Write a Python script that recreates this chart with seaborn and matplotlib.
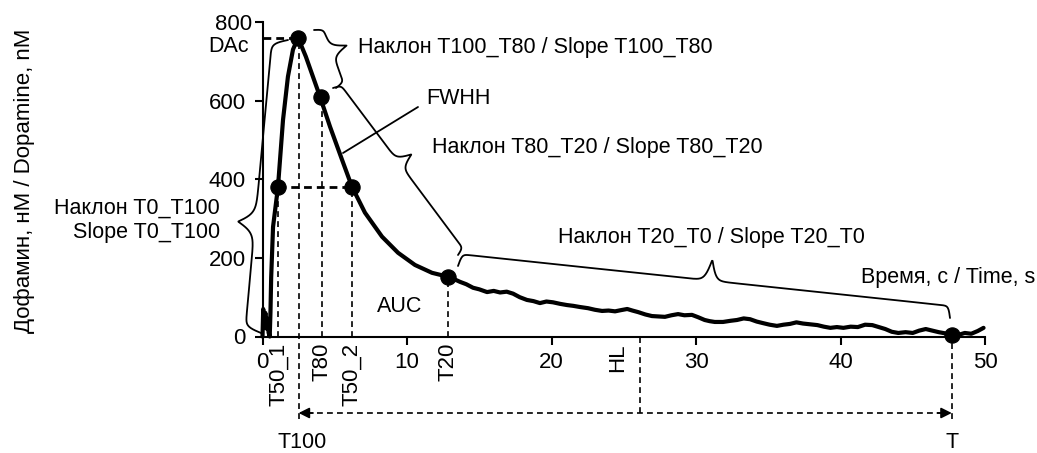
import numpy as np
import matplotlib
matplotlib.use("Agg")
import matplotlib.pyplot as plt
import matplotlib.transforms as mtransforms
import seaborn as sns
import pandas as pd

# ---------------- data ----------------
time_s = [0, 0.05, 0.12, 0.2, 0.28, 0.36, 0.42, 0.5, 0.55, 0.6, 0.73, 1.07, 1.42, 1.76, 2.11, 2.46,
          3.0, 3.49, 3.98, 4.67, 5.5, 6.19, 7.09, 8.27, 9.38, 10.55, 11.73, 12.84,
          13.2, 13.67, 14.1, 14.57, 15.0, 15.54, 16.0, 16.44, 16.9, 17.34, 17.8, 18.3, 18.75,
          19.2, 19.65, 20.1, 20.6, 21.07, 21.5, 21.97, 22.53, 23.0, 23.5, 23.95, 24.4, 24.8,
          25.24, 25.6, 26.0, 26.5, 26.95, 27.4, 27.85, 28.3, 28.76, 29.2, 29.72, 30.15, 30.6,
          30.95, 31.3, 31.87, 32.4, 32.84, 33.3, 33.74, 34.2, 34.64, 35.1, 35.6, 36.05, 36.5,
          36.95, 37.4, 37.9, 38.4, 38.85, 39.3, 39.75, 40.2, 40.7, 41.2, 41.7, 42.2, 42.65,
          43.1, 43.55, 44.0, 44.5, 45.0, 45.45, 45.9, 46.35, 46.8, 47.25, 47.7, 48.15, 48.6,
          49.05, 49.5, 49.9]
dopamine_nM = [0, 70, 30, 60, 20, 45, 10, 0, 60, 150, 279, 380, 551, 661, 730, 760,
               712, 661, 610, 534, 450, 381, 315, 254, 213, 182, 162, 152,
               147, 139, 133, 124, 120, 113, 116, 112, 114, 109, 100, 93, 90,
               85, 89, 87, 83, 80, 78, 75, 72, 68, 65, 66, 64, 67,
               70, 66, 62, 56, 52, 51, 50, 54, 57, 54, 55, 49, 42,
               39, 37, 37, 40, 42, 46, 44, 38, 34, 30, 27, 30, 32,
               36, 33, 31, 29, 25, 22, 24, 22, 25, 24, 30, 29, 24,
               19, 12, 9, 11, 9, 15, 19, 15, 11, 8, 6, 4, 9,
               7, 14, 22]

marker_time = [1.07, 2.46, 4.05, 6.19, 12.84, 47.7]
marker_value = [380, 760, 610, 381, 152, 5]

DAc = 760
half_DAc = 380
T50_1, T100, T80, T50_2, T20, HL, T_end = 1.1, 2.5, 4.15, 6.2, 12.85, 26.1, 47.7

x_num_ticks = [0, 10, 20, 30, 40, 50]
x_num_labels = ["0", "10", "20", "30", "40", "50"]
x_named_ticks = [1.1, 4.15, 6.2, 12.85, 24.6]
x_named_labels = ["T50_1", "T80", "T50_2", "T20", "HL"]
y_ticks = [0, 200, 400, 600, 800]
y_labels = ["0", "200", "400", "600", "800"]

# ---------------- style ----------------
sns.set_style("ticks")
plt.rcParams['font.family'] = ['Liberation Sans', 'DejaVu Sans']
plt.rcParams['axes.edgecolor'] = 'black'
plt.rcParams['xtick.color'] = 'black'
plt.rcParams['ytick.color'] = 'black'
plt.rcParams['text.color'] = 'black'
FS = 15.5
FT = 16

W, H = 1037, 453
fig = plt.figure(figsize=(W / 100, H / 100), dpi=100)
ax = fig.add_axes([262.5 / W, (H - 336.5) / H, 722.5 / W, 314.5 / H])
ax.set_xlim(0, 50)
ax.set_ylim(0, 800)


def P(px, py):
    """image pixel (y down) -> data coords"""
    return ax.transData.inverted().transform((px, H - py))


def F(px, py):
    return px / W, 1 - py / H


df = pd.DataFrame({"t": time_s, "da": dopamine_nM})
sns.lineplot(data=df, x="t", y="da", ax=ax, color="black", lw=3.0, sort=False,
             estimator=None, clip_on=False, zorder=4)
sns.scatterplot(x=marker_time, y=marker_value, ax=ax, s=120, color="black",
                edgecolor="black", zorder=6, clip_on=False)

# ---------------- dashed guide lines ----------------
thin = dict(color="black", lw=1.2, ls=(0, (3.5, 2.5)), clip_on=False, zorder=3)
thick = dict(color="black", lw=2.0, ls=(0, (2.8, 1.8)), clip_on=False, zorder=3)
y_arrow = P(0, 413)[1]
y_low = P(0, 419)[1]
ax.plot([0, T100], [DAc, DAc], **thick)
ax.plot([T50_1, T50_2], [half_DAc, half_DAc], **thick)
ax.plot([T50_1, T50_1], [0, half_DAc], **thin)
ax.plot([T100, T100], [y_low, DAc], **thin)
ax.plot([T80, T80], [0, 610], **thin)
ax.plot([T50_2, T50_2], [0, half_DAc], **thin)
ax.plot([T20, T20], [0, 152], **thin)
ax.plot([HL, HL], [y_arrow, 0], **thin)
ax.plot([T_end, T_end], [y_low, 0], **thin)
ax.plot([T100 + 0.6, T_end - 0.6], [y_arrow, y_arrow], **thin)
for x0, x1 in [(T100 + 1.0, T100), (T_end - 1.0, T_end)]:
    ax.annotate("", xy=(x1, y_arrow), xytext=(x0, y_arrow), annotation_clip=False,
                arrowprops=dict(arrowstyle="-|>", color="black", lw=1.2,
                                mutation_scale=16, shrinkA=0, shrinkB=0))

# ---------------- braces ----------------
def brace(p0, p1, frac, a, b, beta=0.35, side=-1, lw=1.3):
    p0 = np.array(p0, float)
    p1 = np.array(p1, float)
    d = p1 - p0
    L = np.hypot(*d)
    e = d / L
    n = np.array([-e[1], e[0]]) * side
    u = np.linspace(0, L, 800)
    ut = frac * L
    v = a * np.tanh(beta * u) * np.tanh(beta * (L - u)) + \
        (b - a) * 2 / (1 + np.exp(beta * np.abs(u - ut)))
    pts = p0[None, :] + u[:, None] * e[None, :] + v[:, None] * n[None, :]
    ax.plot(pts[:, 0] / W, 1 - pts[:, 1] / H, transform=fig.transFigure,
            color="black", lw=lw, clip_on=False, zorder=3)


brace((261, 333), (288, 40), 0.37, 16, 33, beta=0.2)
brace((314, 30), (336, 88), 0.42, 9, 25)
brace((333, 88), (458, 255), 0.48, 8, 23)
brace((458, 266), (950, 318), 0.51, 12, 33)

# FWHH pointer
ax.plot(*zip(P(343, 153), P(418, 107)), color="black", lw=1.3, clip_on=False)

# ---------------- axes & ticks ----------------
sns.despine(ax=ax)
for s in ["left", "bottom"]:
    ax.spines[s].set_linewidth(1.5)
ax.set_xticks(x_num_ticks)
ax.set_xticklabels(x_num_labels, fontsize=FT)
ax.set_xticks(x_named_ticks, minor=True)
ax.set_xticklabels(x_named_labels, minor=True, rotation=90, fontsize=FT)
ax.tick_params(axis="x", which="major", length=5.5, width=1.5, pad=6.0, direction="out")
ax.tick_params(axis="x", which="minor", length=0, pad=4.7)
ax.set_yticks(y_ticks)
ax.set_yticklabels(y_labels, fontsize=FT)
ax.tick_params(axis="y", length=6, width=1.5, pad=6, direction="out")
ax.set_xlabel("")
ax.set_ylabel("")
# the top label sits a bit closer to the axis in the reference
top_lab = ax.get_yticklabels()[-1]
top_lab.set_transform(top_lab.get_transform() +
                      mtransforms.ScaledTranslation(6 / 100, 0, fig.dpi_scale_trans))

# ---------------- texts ----------------
fig.text(*F(25, 181), "Дофамин, нМ / Dopamine, nM", rotation=90, ha="center",
         va="center", fontsize=FT)
fig.text(*F(249, 47), "DAc", ha="right", va="center", fontsize=FS)
fig.text(*F(220, 208), "Наклон T0_T100", ha="right", va="center", fontsize=FS)
fig.text(*F(220, 233), "Slope T0_T100", ha="right", va="center", fontsize=FS)
fig.text(*F(358, 47), "Наклон T100_T80 / Slope T100_T80", ha="left", va="center", fontsize=FS)
fig.text(*F(426, 99), "FWHH", ha="left", va="center", fontsize=FS)
fig.text(*F(432, 148), "Наклон T80_T20 / Slope T80_T20", ha="left", va="center", fontsize=FS)
fig.text(*F(558, 238), "Наклон T20_T0 / Slope T20_T0", ha="left", va="center", fontsize=FS)
fig.text(*F(1035, 277), "Время, с / Time, s", ha="right", va="center", fontsize=FS)
fig.text(*F(400, 307), "AUC", ha="center", va="center", fontsize=FS)
fig.text(*F(302, 443), "T100", ha="center", va="center", fontsize=FS)
fig.text(*F(952, 442), "T", ha="center", va="center", fontsize=FS)

fig.savefig("out.png", dpi=100, facecolor="white")
